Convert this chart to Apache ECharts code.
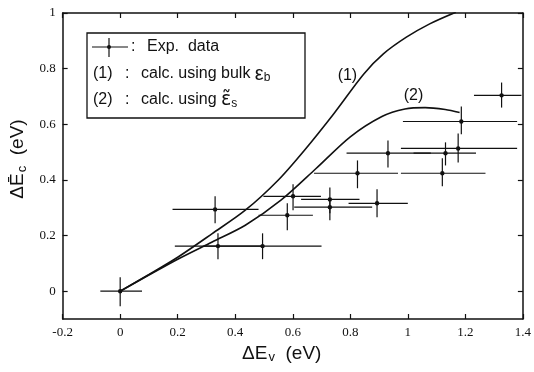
<!DOCTYPE html>
<html>
<head>
<meta charset="utf-8">
<script src="https://cdn.jsdelivr.net/npm/echarts@6/dist/echarts.min.js"></script>
<style>
  html, body { margin: 0; padding: 0; background: #fff; }
  #chart { width: 534px; height: 372px; }
</style>
</head>
<body>
<div id="chart"></div>
<script>
// experimental points: centre, horizontal bar ends, vertical bar ends
const expX  = [0, 0.33, 0.34, 0.495, 0.581, 0.601, 0.729, 0.729, 0.893, 0.825, 1.12, 0.931, 1.131, 1.175, 1.186, 1.326]
const expY  = [0, 0.294, 0.162, 0.162, 0.273, 0.341, 0.330, 0.302, 0.316, 0.424, 0.424, 0.496, 0.496, 0.513, 0.61, 0.704]
const xLo   = [-0.069, 0.182, 0.19, 0.29, 0.481, 0.498, 0.629, 0.605, 0.794, 0.674, 0.976, 0.787, 1.02, 0.976, 0.983, 1.23]
const xHi   = [0.076, 0.481, 0.49, 0.70, 0.67, 0.698, 0.832, 0.876, 1.0, 0.966, 1.27, 1.08, 1.237, 1.38, 1.38, 1.395]
const yLo   = [-0.054, 0.244, 0.115, 0.115, 0.219, 0.291, 0.28, 0.255, 0.266, 0.37, 0.377, 0.445, 0.452, 0.463, 0.564, 0.66]
const yHi   = [0.05, 0.341, 0.208, 0.208, 0.316, 0.384, 0.373, 0.33, 0.366, 0.47, 0.478, 0.542, 0.535, 0.567, 0.664, 0.75]

// calc. curve (1), bulk eps_b
const curve1 = [[0, 0], [0.1, 0.06], [0.2, 0.122], [0.32, 0.207], [0.435, 0.291], [0.549, 0.399],
  [0.64, 0.506], [0.744, 0.64], [0.847, 0.781], [0.915, 0.853], [0.995, 0.913], [1.076, 0.961], [1.167, 1.003]]
// calc. curve (2), eps_s
const curve2 = [[0, 0], [0.1, 0.058], [0.2, 0.115], [0.32, 0.177], [0.435, 0.237], [0.56, 0.328],
  [0.68, 0.44], [0.8, 0.555], [0.91, 0.628], [0.99, 0.655], [1.06, 0.66], [1.13, 0.653], [1.18, 0.642]]

const curveLabels = [{ text: '(1)', at: [0.79, 0.776] }, { text: '(2)', at: [1.02, 0.704] }]
const yTicks = [0, 0.2, 0.4, 0.6, 0.8, 1]

const ink = '#111'
const serif = 'Liberation Serif'
const sans = 'Liberation Sans'

const chart = echarts.init(document.getElementById('chart'), null, { renderer: 'canvas' })

const expData = expX.map((x, i) => [x, expY[i], xLo[i], xHi[i], yLo[i], yHi[i]])

function renderErr(params, api) {
  const c = api.coord([api.value(0), api.value(1)])
  const l = api.coord([api.value(2), api.value(1)])
  const r = api.coord([api.value(3), api.value(1)])
  const b = api.coord([api.value(0), api.value(4)])
  const t = api.coord([api.value(0), api.value(5)])
  const st = { stroke: ink, lineWidth: 1.2 }
  return {
    type: 'group',
    children: [
      { type: 'line', shape: { x1: l[0], y1: l[1], x2: r[0], y2: r[1] }, style: st },
      { type: 'line', shape: { x1: b[0], y1: b[1], x2: t[0], y2: t[1] }, style: st },
      { type: 'circle', shape: { cx: c[0], cy: c[1], r: 2.2 }, style: { fill: ink } },
    ],
  }
}

const tickStyle = { show: true, inside: true, length: 5, lineStyle: { color: ink, width: 1.2 } }
const lineStyle = { lineStyle: { color: ink, width: 1.5 } }

// text-only scatter for the (1) / (2) curve tags
const tagSeries = {
  type: 'scatter',
  data: curveLabels.map((d) => ({ value: d.at, name: d.text })),
  symbolSize: 1,
  itemStyle: { color: 'transparent' },
  silent: true,
  label: {
    show: true, position: 'inside', formatter: (p) => p.name,
    color: ink, fontFamily: sans, fontSize: 16,
    textBorderWidth: 0, textBorderColor: 'transparent', opacity: 1,
  },
}

const option = {
  animation: false,
  backgroundColor: '#fff',
  grid: { left: 60, right: 10, top: 13, bottom: 53 },
  xAxis: [
    {
      type: 'value', min: -0.2, max: 1.4, interval: 0.2,
      axisLine: { show: true, onZero: false, ...lineStyle },
      axisTick: tickStyle,
      splitLine: { show: false },
      axisLabel: { color: ink, fontFamily: serif, fontSize: 13, margin: 7 },
      name: '{m|ΔE}{s|v}{m|  (eV)}',
      nameLocation: 'middle',
      nameGap: 23,
      nameTextStyle: {
        padding: [0, 22, 0, 0],
        rich: {
          m: { fontFamily: sans, fontSize: 19, color: ink },
          s: { fontFamily: sans, fontSize: 13, color: ink, padding: [9, 0, 0, 1] },
        },
      },
    },
    {
      type: 'value', position: 'top', min: -0.2, max: 1.4, interval: 0.2,
      axisLine: { show: true, onZero: false, ...lineStyle },
      axisTick: tickStyle,
      axisLabel: { show: false },
      splitLine: { show: false },
    },
  ],
  yAxis: [
    {
      type: 'value', min: -0.1, max: 1,
      axisLine: { show: true, onZero: false, ...lineStyle },
      axisTick: { ...tickStyle, customValues: yTicks },
      splitLine: { show: false },
      axisLabel: { customValues: yTicks, color: ink, fontFamily: serif, fontSize: 13, margin: 7 },
      name: '{m|ΔĒ}{s|c}{m|  (eV)}',
      nameLocation: 'middle',
      nameGap: 24,
      nameTextStyle: {
        padding: [0, 0, 0, 14],
        rich: {
          m: { fontFamily: sans, fontSize: 19, color: ink },
          s: { fontFamily: sans, fontSize: 13, color: ink, padding: [9, 0, 0, 1] },
        },
      },
    },
    {
      type: 'value', position: 'right', min: -0.1, max: 1,
      axisLine: { show: true, onZero: false, ...lineStyle },
      axisTick: { ...tickStyle, customValues: yTicks },
      axisLabel: { show: false },
      splitLine: { show: false },
    },
  ],
  series: [
    {
      name: 'calc (1)', type: 'line', data: curve1, smooth: 0.3, symbol: 'none', clip: true,
      lineStyle: { color: ink, width: 1.6 },
    },
    {
      name: 'calc (2)', type: 'line', data: curve2, smooth: 0.3, symbol: 'none', clip: true,
      lineStyle: { color: ink, width: 1.6 },
    },
    {
      name: 'Exp. data', type: 'custom', data: expData, renderItem: renderErr, clip: true,
      encode: { x: 0, y: 1 },
    },
    tagSeries,
  ],
  graphic: [
    { type: 'rect', shape: { x: 87, y: 33, width: 218, height: 85 }, style: { fill: '#fff', stroke: ink, lineWidth: 1.3 }, z: 10 },
    { type: 'line', shape: { x1: 92, y1: 47, x2: 128, y2: 47 }, style: { stroke: ink, lineWidth: 1.2 }, z: 11 },
    { type: 'line', shape: { x1: 109, y1: 38, x2: 109, y2: 57 }, style: { stroke: ink, lineWidth: 1.2 }, z: 11 },
    { type: 'circle', shape: { cx: 109, cy: 47, r: 2 }, style: { fill: ink }, z: 11 },
    { type: 'text', x: 131, y: 47, style: { text: ':', fill: ink, font: '16px ' + sans, verticalAlign: 'middle' }, z: 11 },
    { type: 'text', x: 147, y: 47, style: { text: 'Exp.  data', fill: ink, font: '16px ' + sans, verticalAlign: 'middle' }, z: 11 },
    { type: 'text', x: 93, y: 74, style: { text: '(1)', fill: ink, font: '16px ' + sans, verticalAlign: 'middle' }, z: 11 },
    { type: 'text', x: 125, y: 74, style: { text: ':', fill: ink, font: '16px ' + sans, verticalAlign: 'middle' }, z: 11 },
    {
      type: 'text', x: 141, y: 74, z: 11,
      style: {
        text: '{m|calc. using bulk }{e|ε}{s|b}', verticalAlign: 'middle',
        rich: {
          m: { fontFamily: sans, fontSize: 16, fill: ink },
          e: { fontFamily: sans, fontSize: 20, fill: ink },
          s: { fontFamily: sans, fontSize: 12, fill: ink, padding: [8, 0, 0, 0] },
        },
      },
    },
    { type: 'text', x: 93, y: 100, style: { text: '(2)', fill: ink, font: '16px ' + sans, verticalAlign: 'middle' }, z: 11 },
    { type: 'text', x: 125, y: 100, style: { text: ':', fill: ink, font: '16px ' + sans, verticalAlign: 'middle' }, z: 11 },
    {
      type: 'text', x: 141, y: 100, z: 11,
      style: {
        text: '{m|calc. using }{e|ε̃}{s|s}', verticalAlign: 'middle',
        rich: {
          m: { fontFamily: sans, fontSize: 16, fill: ink },
          e: { fontFamily: 'DejaVu Sans', fontSize: 19, fill: ink },
          s: { fontFamily: sans, fontSize: 12, fill: ink, padding: [8, 0, 0, 0] },
        },
      },
    },
  ],
}

chart.setOption(option)
</script>
</body>
</html>
